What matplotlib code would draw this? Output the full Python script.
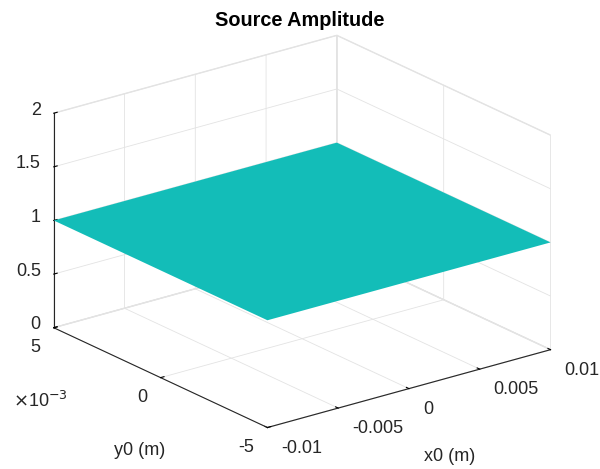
import numpy as np
import matplotlib.pyplot as plt
from mpl_toolkits.mplot3d import proj3d

## Data
## ====
x0_edges = [-0.01, 0.01]
y0_edges = [-0.005, 0.005]
amplitude = [[1, 1],
             [1, 1]]

x_ticks = [-0.01, -0.005, 0, 0.005, 0.01]
x_ticklabels = ['-0.01', '-0.005', '0', '0.005', '0.01']
y_ticks = [-0.005, 0, 0.005]
y_ticklabels = ['-5', '0', '5']
z_ticks = [0, 0.5, 1, 1.5, 2]
z_ticklabels = ['0', '0.5', '1', '1.5', '2']

plt.rcParams['font.family'] = ['Liberation Sans', 'DejaVu Sans']
ink = '#262626'
grid_grey = '#e3e3e3'

## Surface
## =======
fig = plt.figure(figsize=(6, 4.69), dpi=100)
ax = fig.add_axes([-0.007, -0.007, 1, 1], projection='3d', proj_type='ortho')
ax.view_init(elev=21, azim=-127.5)
ax.set_box_aspect((355.6, 349.8, 229), zoom=1.14)

X, Y = np.meshgrid(x0_edges, y0_edges)
Z = np.array(amplitude, dtype=float)
surf = ax.plot_surface(X, Y, Z, color='#13bdb8', edgecolor='none', shade=False,
                       linewidth=0, antialiased=True)
# the 3-D axes is squeezed to a square, don't let it crop the sheet
surf.set_clip_on(False)

ax.set_xlim(x0_edges)
ax.set_ylim(y0_edges)
ax.set_zlim(0, 2)
ax.set_xticks(x_ticks)
ax.set_yticks(y_ticks)
ax.set_zticks(z_ticks)
ax.xaxis.set_ticklabels([])
ax.yaxis.set_ticklabels([])
ax.zaxis.set_ticklabels([])

for axis in (ax.xaxis, ax.yaxis, ax.zaxis):
    axis.set_pane_color((1, 1, 1, 1))
    axis.pane.set_edgecolor(grid_grey)
    axis.line.set_color(ink)
    axis.line.set_linewidth(0.8)
    axis._axinfo['grid'].update(color=grid_grey, linewidth=0.6)
    axis._axinfo['tick'].update(inward_factor=0.0, outward_factor=0.15)
    axis._axinfo['tick']['color'] = ink

# need the projection matrix before placing the flat labels
fig.canvas.draw()


def label_at(x, y, z, s, dx, dy, **kw):
    # horizontal text offset by (dx right, dy down) pixels from a 3-D point
    px, py, _ = proj3d.proj_transform(x, y, z, ax.M)
    ax.annotate(s, (px, py), xycoords='data', xytext=(dx, -dy),
                textcoords='offset pixels', fontsize=13, color=ink,
                annotation_clip=False, **kw)


ymin, ymax = y0_edges
xmin, xmax = x0_edges
for xt, lab in zip(x_ticks, x_ticklabels):
    label_at(xt, ymin, 0, lab, 14, 12, ha='left', va='top')
for yt, lab in zip(y_ticks, y_ticklabels):
    label_at(xmin, yt, 0, lab, -13, 11, ha='right', va='top')
for zt, lab in zip(z_ticks, z_ticklabels):
    label_at(xmin, ymax, zt, lab, -13, -3, ha='right', va='center')

label_at(0, ymin, 0, 'x0 (m)', 41, 68, ha='center', va='center')
label_at(xmin, 0, 0, 'y0 (m)', -21, 73, ha='center', va='center')
fig.text(13 / 600, 1 - 401 / 469, r'$\times$10$^{-3}$', ha='left', va='center',
         fontsize=13, color=ink)

fig.text(0.5, 1 - 20 / 469, 'Source Amplitude', ha='center', va='center',
         fontsize=14.3, fontweight='bold', color='black')

fig.savefig('out.png', dpi=100)
